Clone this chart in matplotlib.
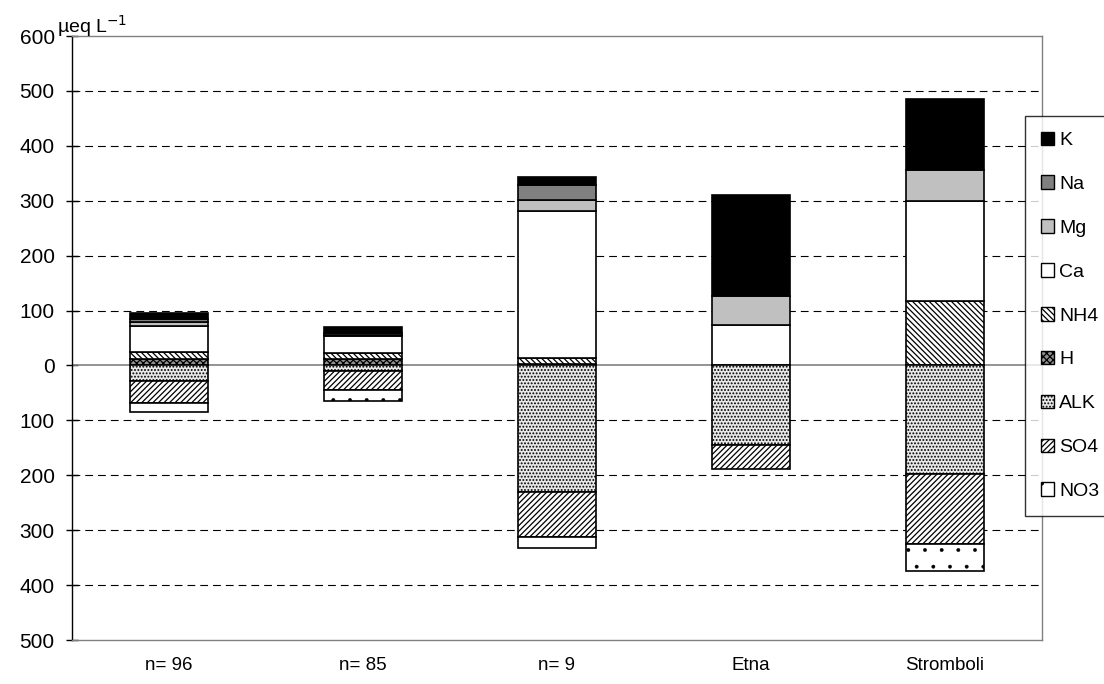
import matplotlib
matplotlib.use("Agg")
import matplotlib.pyplot as plt
import numpy as np
from matplotlib.patches import Patch

plt.rcParams['font.family'] = ['Liberation Sans', 'DejaVu Sans']
plt.rcParams['hatch.linewidth'] = 0.9

categories = ['n= 96', 'n= 85', 'n= 9', 'Etna', 'Stromboli']
# cations (positive)
H = [11, 11, 2, 0, 0]
NH4 = [13, 12, 12, 0, 117]
Ca = [48, 30, 267, 73, 183]
Mg = [7, 3, 20, 54, 56]
Na = [5, 3, 28, 0, 0]
K = [12, 11, 14, 183, 129]
# anions (negative)
ALK = [29, 10, 230, 145, 198]
SO4 = [39, 34, 83, 43, 127]
NO3 = [17, 20, 20, 0, 50]

yticks = [-500, -400, -300, -200, -100, 0, 100, 200, 300, 400, 500, 600]

styles = {
    'K':   dict(facecolor='black', hatch=None),
    'Na':  dict(facecolor='#808080', hatch=None),
    'Mg':  dict(facecolor='#c0c0c0', hatch=None),
    'Ca':  dict(facecolor='white', hatch=None),
    'NH4': dict(facecolor='white', hatch='\\\\\\\\\\\\'),
    'H':   dict(facecolor='#909090', hatch='xxxxx'),
    'ALK': dict(facecolor='#e8e8e8', hatch='.....'),
    'SO4': dict(facecolor='white', hatch='//////'),
    'NO3': dict(facecolor='white', hatch='.'),
}
hatch_lw = {'NO3': 0.3}

fig = plt.figure(figsize=(11.04, 6.84), dpi=100)
ax = fig.add_axes([72/1104, 1-640/684, (1042-72)/1104, (640-36)/684])

x = np.arange(len(categories))
w = 0.4

pos = [('H', H), ('NH4', NH4), ('Ca', Ca), ('Mg', Mg), ('Na', Na), ('K', K)]
neg = [('ALK', ALK), ('SO4', SO4), ('NO3', NO3)]

def style_bars(bars, name):
    if name in hatch_lw:
        for p in bars:
            try:
                p.set_hatch_linewidth(hatch_lw[name])
            except AttributeError:
                pass

for i in range(len(categories)):
    b = 0
    for name, vals in pos:
        v = vals[i]
        if v > 0:
            bars = ax.bar(x[i], v, w, bottom=b, edgecolor='black', linewidth=1.2,
                          zorder=3, **styles[name])
            style_bars(bars, name)
            b += v
    b = 0
    for name, vals in neg:
        v = vals[i]
        if v > 0:
            bars = ax.bar(x[i], -v, w, bottom=b, edgecolor='black', linewidth=1.2,
                          zorder=3, **styles[name])
            style_bars(bars, name)
            b -= v

ax.set_xlim(-0.5, len(categories) - 0.5)
ax.set_ylim(-500, 600)
ax.set_yticks(yticks)
ax.set_yticklabels([str(abs(t)) for t in yticks], fontsize=15)
ax.set_xticks(x)
ax.set_xticklabels(categories, fontsize=13.5)
ax.tick_params(axis='x', length=0, pad=12)
ax.tick_params(axis='y', direction='inout', length=9, width=1, pad=8)

for t in yticks:
    if t == 0:
        ax.axhline(0, color='#808080', linewidth=1.2, zorder=2)
    elif t not in (600, -500):
        ax.axhline(t, color='black', linewidth=0.8, linestyle=(0, (7, 4.5)), zorder=1)

for s in ['top', 'right', 'bottom']:
    ax.spines[s].set_color('#808080')
    ax.spines[s].set_linewidth(1.0)
ax.spines['left'].set_color('black')
ax.spines['left'].set_linewidth(1.0)

fig.text(57/1104, 1-33/684, 'µeq L$^{-1}$', fontsize=14, ha='left', va='baseline')

order = ['K', 'Na', 'Mg', 'Ca', 'NH4', 'H', 'ALK', 'SO4', 'NO3']
handles = []
for n in order:
    p = Patch(edgecolor='black', linewidth=1.0, label=n, **styles[n])
    if n in hatch_lw:
        try:
            p.set_hatch_linewidth(hatch_lw[n])
        except AttributeError:
            pass
    handles.append(p)
leg = fig.legend(handles=handles, loc='upper left', bbox_to_anchor=(1025/1104, 1-116/684),
                 fontsize=14, frameon=True, fancybox=False, edgecolor='black',
                 handlelength=0.7, handleheight=0.7, handletextpad=0.25,
                 labelspacing=1.35, borderpad=0.8, borderaxespad=0)
leg.get_frame().set_linewidth(1.0)

fig.savefig('out.png', dpi=100)
